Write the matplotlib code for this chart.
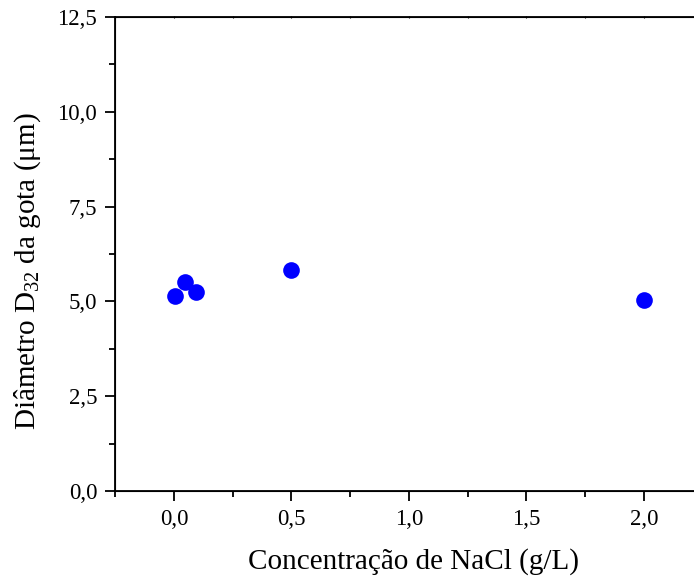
import numpy as np
import matplotlib
matplotlib.use("Agg")
import matplotlib.pyplot as plt
from matplotlib.ticker import FixedLocator, MultipleLocator, FuncFormatter

concentracao = [0.005, 0.045, 0.095, 0.50, 2.00]
diametro = [5.13, 5.52, 5.26, 5.82, 5.03]

plt.rcParams['font.family'] = ['Liberation Serif', 'DejaVu Serif']
plt.rcParams['mathtext.fontset'] = 'custom'
plt.rcParams['mathtext.rm'] = 'Liberation Serif'
plt.rcParams['mathtext.it'] = 'Liberation Serif:italic'


def virgula(v, pos):
    return f"{v:.1f}".replace('.', ',')


def main():
    fig = plt.figure(figsize=(6.94, 5.78), dpi=100)
    ax = fig.add_axes([0.166, 0.1505, 0.931, 0.8201])
    ax.plot(concentracao, diametro, 'o', color='#0000ff', markersize=12,
            markeredgewidth=0, clip_on=False)

    ax.set_xlim(-0.25, 2.5)
    ax.set_ylim(0, 12.5)
    ax.xaxis.set_major_locator(FixedLocator([0, 0.5, 1.0, 1.5, 2.0]))
    ax.xaxis.set_minor_locator(FixedLocator([-0.25, 0.25, 0.75, 1.25, 1.75]))
    ax.yaxis.set_major_locator(MultipleLocator(2.5))
    ax.yaxis.set_minor_locator(MultipleLocator(1.25))
    ax.xaxis.set_major_formatter(FuncFormatter(virgula))
    ax.yaxis.set_major_formatter(FuncFormatter(virgula))
    ax.tick_params(which='major', length=7, width=1.3, labelsize=16.5, pad=6)
    ax.tick_params(which='minor', length=4, width=1.3)
    for s in ax.spines.values():
        s.set_linewidth(1.3)
    ax.spines['right'].set_visible(False)

    # pequenos tracos no eixo superior
    top = ax.twiny()
    top.set_xlim(ax.get_xlim())
    top.set_xticks(np.arange(-0.25, 2.3, 0.25))
    top.tick_params(axis='x', direction='inout', length=2, width=0.8, labeltop=False)
    top.spines['right'].set_visible(False)

    ax.set_xlabel('Concentração de NaCl (g/L)', fontsize=21)
    ax.set_ylabel('Diâmetro D$_{32}$ da gota (μm)', fontsize=21)
    ax.xaxis.set_label_coords(0.461, -0.121)
    ax.yaxis.set_label_coords(-0.112, 0.463)

    fig.savefig('out.png', dpi=100)


if __name__ == '__main__':
    main()
